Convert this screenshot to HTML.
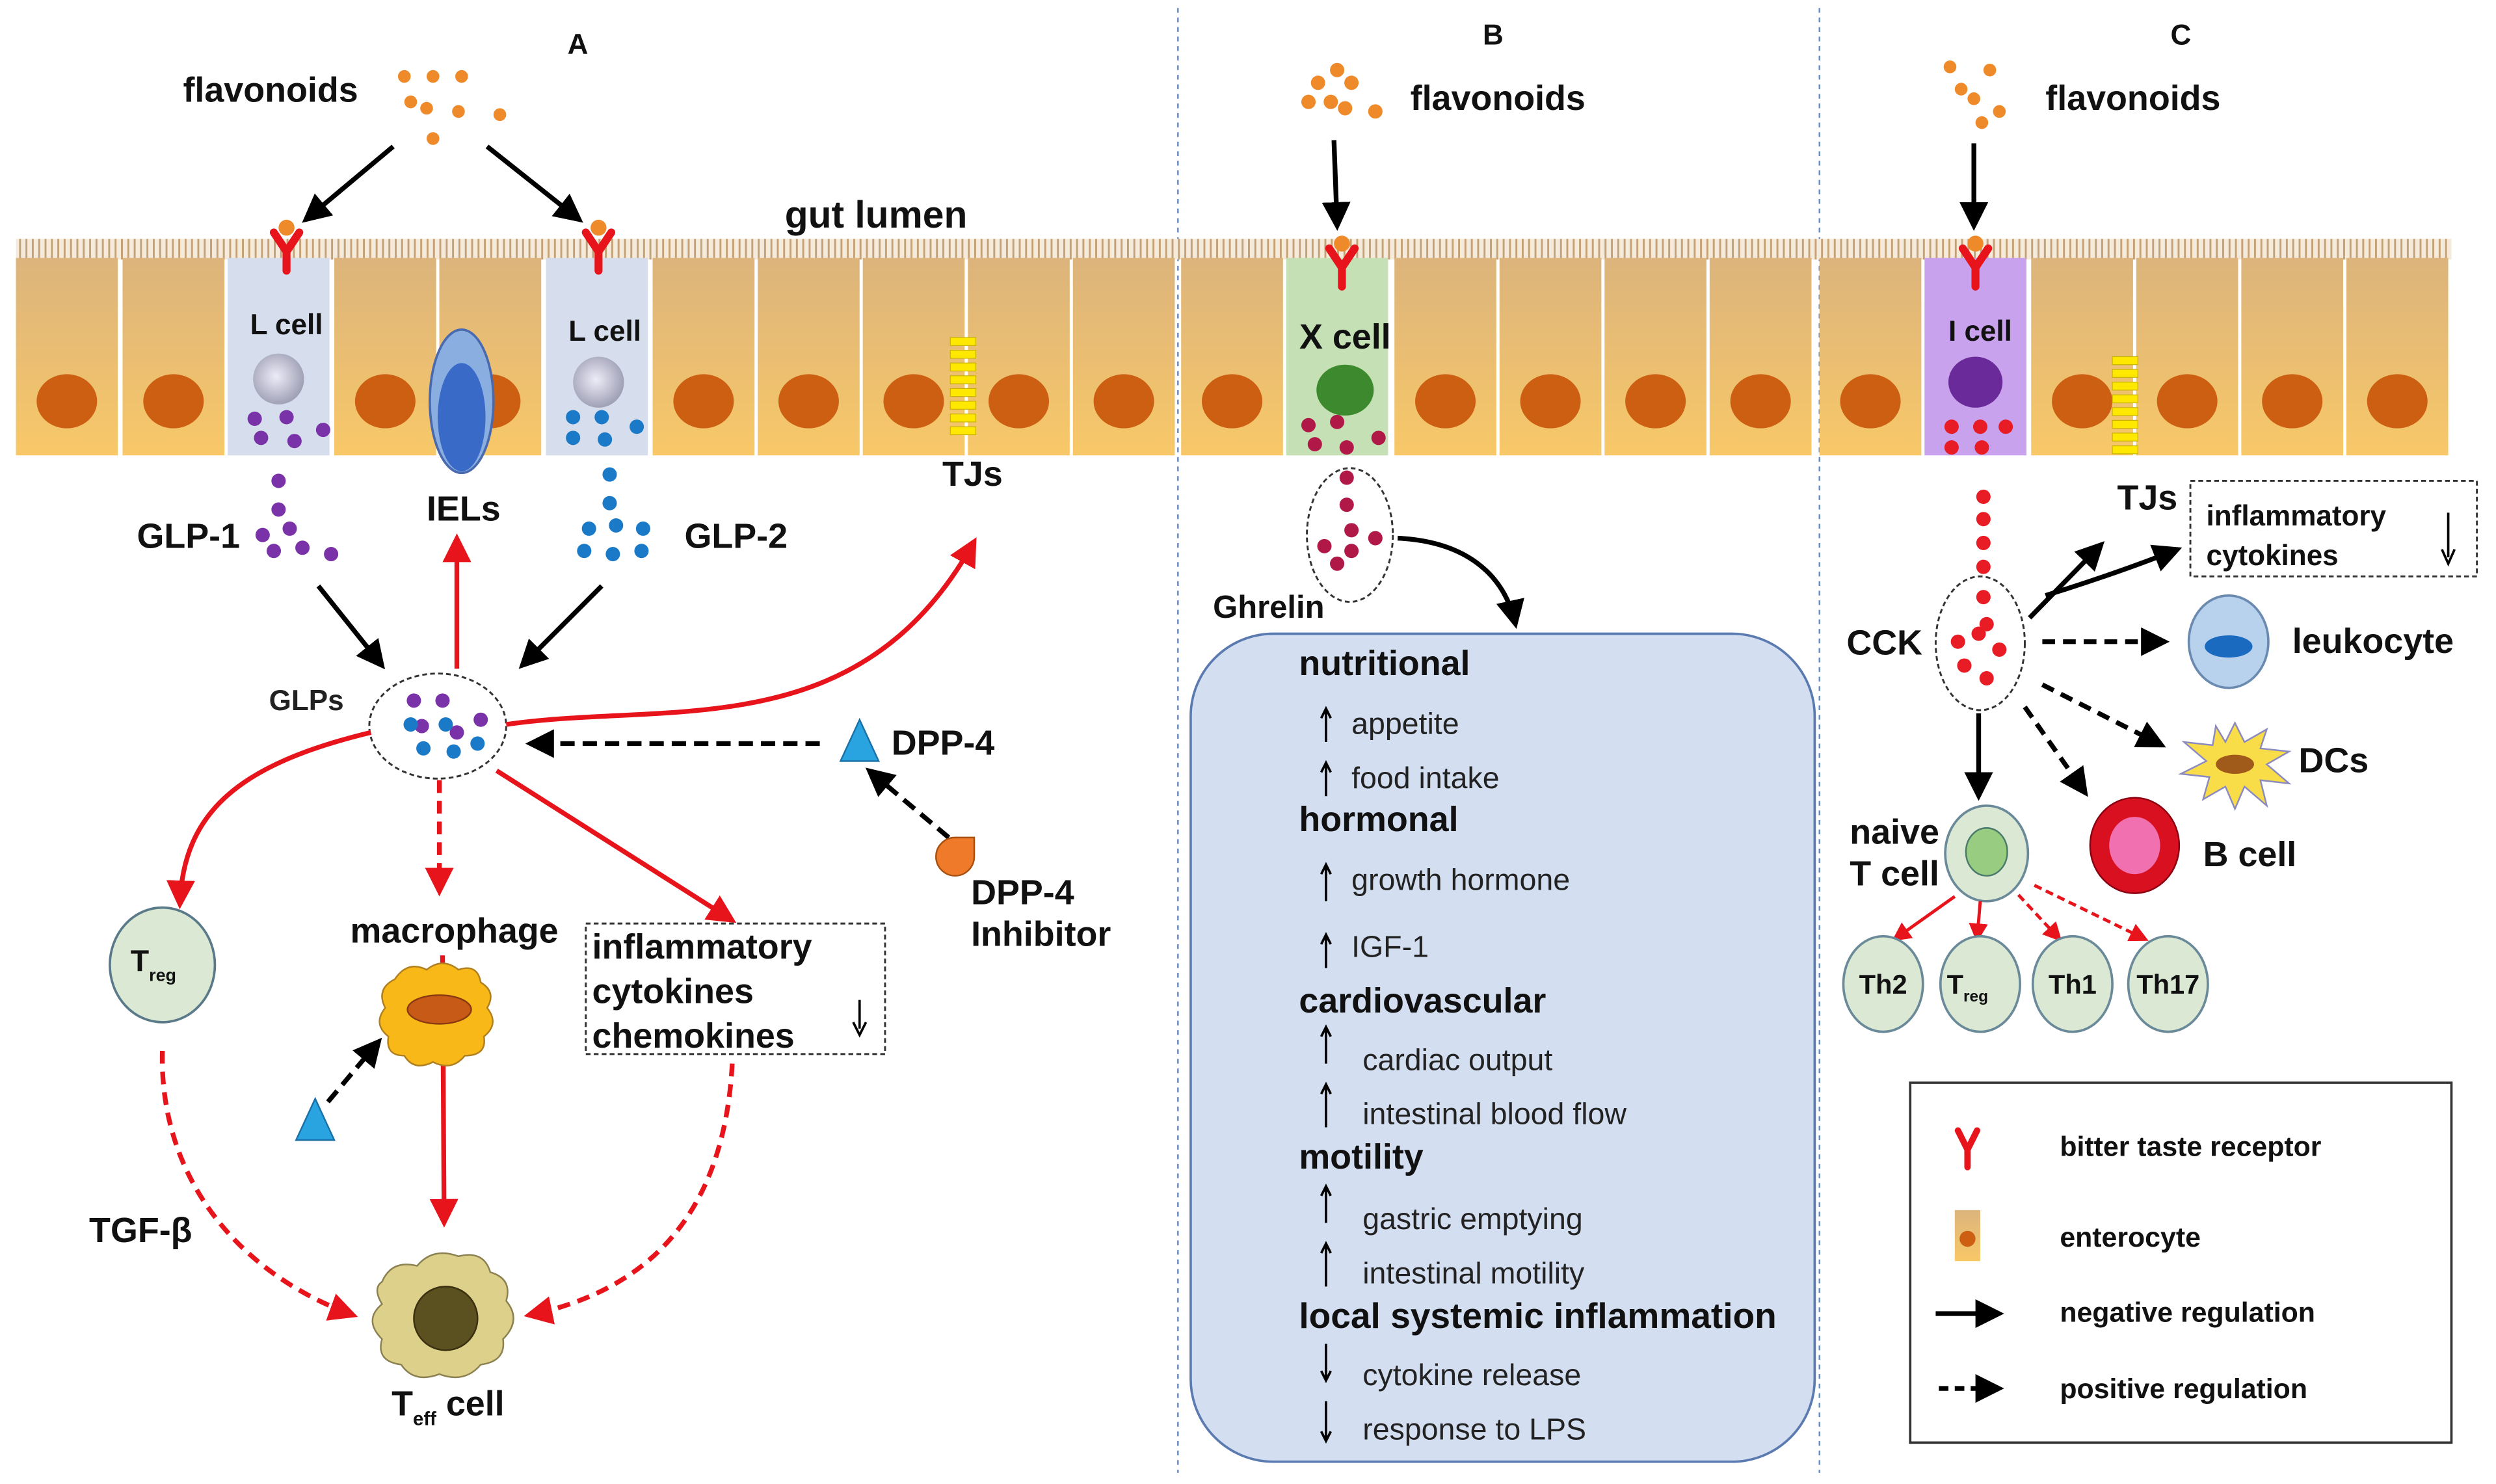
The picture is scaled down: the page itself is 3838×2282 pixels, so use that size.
<!DOCTYPE html>
<html><head><meta charset="utf-8"><style>
html,body{margin:0;padding:0;background:#fff;}
svg{display:block;}
text{font-family:"Liberation Sans",Arial,sans-serif;}
.b{font-weight:bold;font-size:22px;fill:#111;}
.s{font-size:19px;fill:#222;}
</style></head><body>
<svg width="3838" height="2282" viewBox="0 0 1568 932" preserveAspectRatio="none" xmlns="http://www.w3.org/2000/svg">
<defs>
<linearGradient id="eg" x1="0" y1="0" x2="0" y2="1"><stop offset="0" stop-color="#dcb47c"/><stop offset="1" stop-color="#f8c868"/></linearGradient>
<radialGradient id="gn" cx="0.45" cy="0.45" r="0.6"><stop offset="0" stop-color="#ececf8"/><stop offset="1" stop-color="#9a9ab0"/></radialGradient>
<pattern id="mv" width="4" height="14" patternUnits="userSpaceOnUse"><rect width="4" height="14" fill="#f6eadb"/><rect x="0" width="1.2" height="14" fill="#c4a278"/></pattern>
<marker id="ak" markerWidth="6" markerHeight="6" refX="5" refY="3" orient="auto" markerUnits="strokeWidth"><path d="M0,0 L6,3 L0,6 Z" fill="#000"/></marker>
<marker id="ar" markerWidth="6" markerHeight="6" refX="5" refY="3" orient="auto" markerUnits="strokeWidth"><path d="M0,0 L6,3 L0,6 Z" fill="#e8141c"/></marker>
<g id="ent"><rect x="0" y="162" width="64" height="124" fill="url(#eg)"/><ellipse cx="32" cy="252" rx="19" ry="17" fill="#cc5f12"/></g>
<g id="rec"><path d="M-8,-14 L0,-2 L8,-14 M0,-2 L0,10" stroke="#e8141c" stroke-width="5" fill="none" stroke-linecap="round"/><circle cx="0" cy="-17" r="5" fill="#ee8a2a"/></g>
</defs>

<text x="363" y="34" class="b" text-anchor="middle" style="font-size:18px">A</text>
<text x="938" y="28" class="b" text-anchor="middle" style="font-size:18px">B</text>
<text x="1370" y="28" class="b" text-anchor="middle" style="font-size:18px">C</text>
<line x1="740" y1="5" x2="740" y2="925" stroke="#6a8ac0" stroke-width="1" stroke-dasharray="3,3"/>
<line x1="1143" y1="5" x2="1143" y2="925" stroke="#6a8ac0" stroke-width="1" stroke-dasharray="3,3"/>

<rect x="10" y="150" width="1530" height="13" fill="url(#mv)"/>
<use href="#ent" x="10"/><use href="#ent" x="77"/><use href="#ent" x="210"/><use href="#ent" x="276"/>
<use href="#ent" x="410"/><use href="#ent" x="476"/><use href="#ent" x="542"/><use href="#ent" x="608"/><use href="#ent" x="674"/>
<use href="#ent" x="742"/><use href="#ent" x="876"/><use href="#ent" x="942"/><use href="#ent" x="1008"/><use href="#ent" x="1074"/>
<use href="#ent" x="1143"/><use href="#ent" x="1276"/><use href="#ent" x="1342"/><use href="#ent" x="1408"/><use href="#ent" x="1474"/>
<rect x="143" y="162" width="64" height="124" fill="#d6deee"/>
<rect x="343" y="162" width="64" height="124" fill="#d6deee"/>
<rect x="808" y="162" width="64" height="124" fill="#c4e0b4"/>
<rect x="1209" y="162" width="64" height="124" fill="#c8a2ec"/>
<text x="180" y="210" class="b" text-anchor="middle" style="font-size:18px">L cell</text>
<text x="380" y="214" class="b" text-anchor="middle" style="font-size:18px">L cell</text>
<text x="845" y="219" class="b" text-anchor="middle">X cell</text>
<text x="1244" y="214" class="b" text-anchor="middle" style="font-size:18px">I cell</text>
<circle cx="175" cy="238" r="16" fill="url(#gn)"/>
<circle cx="376" cy="240" r="16" fill="url(#gn)"/>
<ellipse cx="845" cy="245" rx="18" ry="16" fill="#3d8a2e"/>
<ellipse cx="1241" cy="240" rx="17" ry="16" fill="#6a2a9a"/>
<g fill="#7a32a8"><circle cx="160" cy="263" r="4.5"/><circle cx="180" cy="262" r="4.5"/><circle cx="164" cy="275" r="4.5"/><circle cx="185" cy="277" r="4.5"/><circle cx="203" cy="270" r="4.5"/></g>
<g fill="#1a7ac8"><circle cx="360" cy="262" r="4.5"/><circle cx="378" cy="262" r="4.5"/><circle cx="360" cy="275" r="4.5"/><circle cx="380" cy="276" r="4.5"/><circle cx="400" cy="268" r="4.5"/></g>
<g fill="#b01848"><circle cx="822" cy="267" r="4.5"/><circle cx="840" cy="265" r="4.5"/><circle cx="826" cy="279" r="4.5"/><circle cx="846" cy="281" r="4.5"/><circle cx="866" cy="275" r="4.5"/></g>
<g fill="#e81c24"><circle cx="1226" cy="268" r="4.5"/><circle cx="1244" cy="268" r="4.5"/><circle cx="1260" cy="268" r="4.5"/><circle cx="1226" cy="281" r="4.5"/><circle cx="1245" cy="281" r="4.5"/></g>
<ellipse cx="290" cy="252" rx="20" ry="45" fill="#8aaee0" stroke="#4a6ab0" stroke-width="1.5"/>
<ellipse cx="290" cy="262" rx="15" ry="34" fill="#3a6ac8"/>
<g fill="#ffe800" stroke="#c8b400" stroke-width="0.5">
<rect x="597" y="212" width="16" height="5"/><rect x="597" y="220" width="16" height="5"/><rect x="597" y="228" width="16" height="5"/><rect x="597" y="236" width="16" height="5"/><rect x="597" y="244" width="16" height="5"/><rect x="597" y="252" width="16" height="5"/><rect x="597" y="260" width="16" height="5"/><rect x="597" y="268" width="16" height="5"/>
<rect x="1327" y="224" width="16" height="5"/><rect x="1327" y="232" width="16" height="5"/><rect x="1327" y="240" width="16" height="5"/><rect x="1327" y="248" width="16" height="5"/><rect x="1327" y="256" width="16" height="5"/><rect x="1327" y="264" width="16" height="5"/><rect x="1327" y="272" width="16" height="5"/><rect x="1327" y="280" width="16" height="5"/>
</g>
<use href="#rec" x="180" y="160"/><use href="#rec" x="376" y="160"/><use href="#rec" x="843" y="170"/><use href="#rec" x="1241" y="170"/>

<g fill="#ee8a2a">
<circle cx="254" cy="48" r="4"/><circle cx="272" cy="48" r="4"/><circle cx="290" cy="48" r="4"/><circle cx="258" cy="64" r="4"/><circle cx="268" cy="68" r="4"/><circle cx="288" cy="70" r="4"/><circle cx="314" cy="72" r="4"/><circle cx="272" cy="87" r="4"/>
<circle cx="840" cy="44" r="4.5"/><circle cx="828" cy="52" r="4.5"/><circle cx="849" cy="52" r="4.5"/><circle cx="822" cy="64" r="4.5"/><circle cx="836" cy="64" r="4.5"/><circle cx="845" cy="68" r="4.5"/><circle cx="864" cy="70" r="4.5"/>
<circle cx="1225" cy="42" r="4"/><circle cx="1250" cy="44" r="4"/><circle cx="1232" cy="56" r="4"/><circle cx="1240" cy="62" r="4"/><circle cx="1256" cy="70" r="4"/><circle cx="1245" cy="77" r="4"/>
</g>
<text x="115" y="64" class="b">flavonoids</text>
<text x="886" y="69" class="b">flavonoids</text>
<text x="1285" y="69" class="b">flavonoids</text>
<text x="493" y="143" class="b" style="font-size:24px">gut lumen</text>

<g stroke="#000" stroke-width="3" fill="none" marker-end="url(#ak)">
<line x1="247" y1="92" x2="192" y2="138"/>
<line x1="306" y1="92" x2="364" y2="138"/>
<line x1="838" y1="88" x2="840" y2="142"/>
<line x1="1240" y1="90" x2="1240" y2="142"/>
<line x1="200" y1="368" x2="240" y2="418"/>
<line x1="378" y1="368" x2="328" y2="418"/>
</g>
<g fill="#7a32a8"><circle cx="175" cy="302" r="4.5"/><circle cx="175" cy="320" r="4.5"/><circle cx="165" cy="336" r="4.5"/><circle cx="182" cy="332" r="4.5"/><circle cx="172" cy="346" r="4.5"/><circle cx="190" cy="344" r="4.5"/><circle cx="208" cy="348" r="4.5"/></g>
<g fill="#1a7ac8"><circle cx="383" cy="298" r="4.5"/><circle cx="383" cy="316" r="4.5"/><circle cx="370" cy="332" r="4.5"/><circle cx="387" cy="330" r="4.5"/><circle cx="404" cy="332" r="4.5"/><circle cx="367" cy="346" r="4.5"/><circle cx="385" cy="348" r="4.5"/><circle cx="403" cy="346" r="4.5"/></g>
<text x="86" y="344" class="b">GLP-1</text>
<text x="430" y="344" class="b">GLP-2</text>
<text x="268" y="327" class="b">IELs</text>
<text x="592" y="305" class="b">TJs</text>
<ellipse cx="275" cy="456" rx="43" ry="33" fill="#fff" stroke="#333" stroke-width="1.2" stroke-dasharray="3,2"/>
<g fill="#7a32a8"><circle cx="260" cy="440" r="4.5"/><circle cx="278" cy="440" r="4.5"/><circle cx="302" cy="452" r="4.5"/><circle cx="265" cy="456" r="4.5"/><circle cx="287" cy="460" r="4.5"/></g>
<g fill="#1a7ac8"><circle cx="258" cy="455" r="4.5"/><circle cx="280" cy="455" r="4.5"/><circle cx="300" cy="467" r="4.5"/><circle cx="266" cy="470" r="4.5"/><circle cx="285" cy="472" r="4.5"/></g>
<text x="169" y="446" class="s" style="font-weight:bold;font-size:18px">GLPs</text>

<g stroke="#e8141c" stroke-width="3" fill="none" marker-end="url(#ar)">
<line x1="287" y1="420" x2="287" y2="338"/>
<path d="M318,455 C420,440 540,470 612,340"/>
<path d="M233,460 C150,480 115,510 113,568"/>
<line x1="312" y1="484" x2="460" y2="578"/>
<line x1="278" y1="600" x2="279" y2="768"/>
</g>
<g stroke="#e8141c" stroke-width="3" fill="none" stroke-dasharray="8,5" marker-end="url(#ar)">
<line x1="276" y1="490" x2="276" y2="560"/>
<path d="M102,660 C100,740 150,800 222,826"/>
<path d="M460,668 C455,760 410,810 332,826"/>
</g>
<g stroke="#000" stroke-width="3" fill="none" stroke-dasharray="9,5" marker-end="url(#ak)">
<line x1="515" y1="467" x2="333" y2="467"/>
<line x1="596" y1="526" x2="546" y2="484"/>
<line x1="206" y1="692" x2="238" y2="654"/>
</g>
<polygon points="540,452 528,478 552,478" fill="#2aa4e0" stroke="#1a70a8" stroke-width="1"/>
<polygon points="198,690 186,716 210,716" fill="#2aa4e0" stroke="#1a70a8" stroke-width="1"/>
<text x="560" y="474" class="b">DPP-4</text>
<path d="M600,526 A12,12 0 1,0 612,538 L612,526 Z" fill="#ee7a2a" stroke="#a85010" stroke-width="1"/>
<text x="610" y="568" class="b">DPP-4</text>
<text x="610" y="594" class="b">Inhibitor</text>
<ellipse cx="102" cy="606" rx="33" ry="36" fill="#dbe8d4" stroke="#5a7a8a" stroke-width="1.5"/>
<text x="82" y="610" class="b" style="font-size:19px">T<tspan font-size="11" dy="6">reg</tspan></text>
<text x="220" y="592" class="b">macrophage</text>
<path d="M248,615 q8,-12 20,-6 q10,-8 20,0 q12,-4 14,8 q10,6 4,16 q8,10 -2,18 q2,12 -12,12 q-8,10 -20,4 q-12,6 -18,-4 q-12,0 -10,-12 q-10,-8 -2,-18 q-6,-12 6,-18z" fill="#f8b818" stroke="#b08020" stroke-width="1"/>
<ellipse cx="276" cy="634" rx="20" ry="9" fill="#c85a18" stroke="#8a3a10" stroke-width="1"/>
<rect x="368" y="580" width="188" height="82" fill="#fff" stroke="#333" stroke-width="1.2" stroke-dasharray="3,2"/>
<text x="372" y="602" class="b">inflammatory</text>
<text x="372" y="630" class="b">cytokines</text>
<text x="372" y="658" class="b">chemokines</text>
<line x1="540" y1="628" x2="540" y2="646" stroke="#000" stroke-width="1.5"/><path d="M536,642 L540,650 L544,642" fill="none" stroke="#000" stroke-width="1.5"/>
<path d="M240,805 q6,-14 22,-10 q10,-12 26,-6 q16,-4 20,10 q14,4 10,18 q10,12 -2,24 q2,14 -14,16 q-10,12 -26,6 q-16,6 -24,-6 q-16,-2 -12,-16 q-12,-12 0,-22 q-6,-10 0,-14z" fill="#ddd08a" stroke="#8a8050" stroke-width="1"/>
<circle cx="280" cy="828" r="20" fill="#5a5020" stroke="#3a3010" stroke-width="1"/>
<text x="56" y="780" class="b">TGF-β</text>
<text x="246" y="889" class="b">T<tspan font-size="12" dy="6">eff</tspan><tspan dy="-6"> cell</tspan></text>

<ellipse cx="848" cy="336" rx="27" ry="42" fill="#fff" stroke="#333" stroke-width="1.2" stroke-dasharray="3,2"/>
<g fill="#b01848"><circle cx="846" cy="300" r="4.5"/><circle cx="846" cy="317" r="4.5"/><circle cx="849" cy="333" r="4.5"/><circle cx="864" cy="338" r="4.5"/><circle cx="832" cy="343" r="4.5"/><circle cx="849" cy="346" r="4.5"/><circle cx="840" cy="354" r="4.5"/></g>
<text x="762" y="388" class="b" style="font-size:20px">Ghrelin</text>
<path d="M878,338 C920,340 945,360 952,392" stroke="#000" stroke-width="3" fill="none" marker-end="url(#ak)"/>
<rect x="748" y="398" width="392" height="520" rx="52" fill="#d3def0" stroke="#5a7ab0" stroke-width="1.5"/>
<text x="816" y="424" class="b">nutritional</text>
<text x="816" y="522" class="b">hormonal</text>
<text x="816" y="636" class="b">cardiovascular</text>
<text x="816" y="734" class="b">motility</text>
<text x="816" y="834" class="b" style="font-size:22.5px">local systemic inflammation</text>
<text x="849" y="461" class="s">appetite</text>
<text x="849" y="495" class="s">food intake</text>
<text x="849" y="559" class="s">growth hormone</text>
<text x="849" y="601" class="s">IGF-1</text>
<text x="856" y="672" class="s">cardiac output</text>
<text x="856" y="706" class="s">intestinal blood flow</text>
<text x="856" y="772" class="s">gastric emptying</text>
<text x="856" y="806" class="s">intestinal motility</text>
<text x="856" y="870" class="s">cytokine release</text>
<text x="856" y="904" class="s">response to LPS</text>
<g stroke="#000" stroke-width="1.5" fill="none">
<path d="M833,466 L833,446 M830,451 L833,445 L836,451"/>
<path d="M833,500 L833,480 M830,485 L833,479 L836,485"/>
<path d="M833,566 L833,544 M830,549 L833,543 L836,549"/>
<path d="M833,608 L833,588 M830,593 L833,587 L836,593"/>
<path d="M833,668 L833,646 M830,651 L833,645 L836,651"/>
<path d="M833,708 L833,682 M830,687 L833,681 L836,687"/>
<path d="M833,768 L833,746 M830,751 L833,745 L836,751"/>
<path d="M833,808 L833,782 M830,787 L833,781 L836,787"/>
<path d="M833,844 L833,866 M830,861 L833,867 L836,861"/>
<path d="M833,880 L833,904 M830,899 L833,905 L836,899"/>
</g>

<g fill="#e81c24"><circle cx="1246" cy="312" r="4.5"/><circle cx="1246" cy="326" r="4.5"/><circle cx="1246" cy="341" r="4.5"/><circle cx="1246" cy="356" r="4.5"/></g>
<ellipse cx="1244" cy="404" rx="28" ry="42" fill="#fff" stroke="#333" stroke-width="1.2" stroke-dasharray="3,2"/>
<g fill="#e81c24"><circle cx="1246" cy="375" r="4.5"/><circle cx="1248" cy="392" r="4.5"/><circle cx="1243" cy="398" r="4.5"/><circle cx="1230" cy="403" r="4.5"/><circle cx="1256" cy="408" r="4.5"/><circle cx="1234" cy="418" r="4.5"/><circle cx="1248" cy="426" r="4.5"/></g>
<text x="1160" y="411" class="b">CCK</text>
<g stroke="#000" stroke-width="3" fill="none" marker-end="url(#ak)">
<path d="M1275,388 L1320,342"/>
<path d="M1285,374 Q1330,360 1368,345"/>
<line x1="1243" y1="448" x2="1243" y2="500"/>
</g>
<g stroke="#000" stroke-width="3" fill="none" stroke-dasharray="8,5" marker-end="url(#ak)">
<line x1="1283" y1="403" x2="1360" y2="403"/>
<line x1="1283" y1="430" x2="1358" y2="468"/>
<line x1="1272" y1="444" x2="1310" y2="498"/>
</g>
<text x="1330" y="320" class="b">TJs</text>
<rect x="1376" y="302" width="180" height="60" fill="#fff" stroke="#333" stroke-width="1.2" stroke-dasharray="3,2"/>
<text x="1386" y="330" class="b" style="font-size:18px">inflammatory</text>
<text x="1386" y="355" class="b" style="font-size:18px">cytokines</text>
<line x1="1538" y1="322" x2="1538" y2="350" stroke="#000" stroke-width="1.5"/><path d="M1534,345 L1538,354 L1542,345" fill="none" stroke="#000" stroke-width="1.5"/>
<ellipse cx="1400" cy="403" rx="25" ry="29" fill="#b8d2ee" stroke="#6a8ab0" stroke-width="1.5"/>
<ellipse cx="1400" cy="406" rx="15" ry="7" fill="#1a6ac0"/>
<text x="1440" y="410" class="b">leukocyte</text>
<polygon points="1404,454 1410,466 1424,458 1420,470 1438,472 1424,480 1438,492 1420,490 1424,506 1410,494 1404,508 1398,494 1384,502 1388,488 1370,486 1386,478 1372,466 1390,468 1392,456 1398,466" fill="#f8dc48" stroke="#8a8ac0" stroke-width="1"/>
<ellipse cx="1404" cy="480" rx="12" ry="6" fill="#a05a1a"/>
<text x="1444" y="485" class="b">DCs</text>
<ellipse cx="1341" cy="531" rx="28" ry="30" fill="#d81020" stroke="#8a0010" stroke-width="1"/>
<ellipse cx="1341" cy="531" rx="16" ry="18" fill="#f070b0"/>
<text x="1384" y="544" class="b">B cell</text>
<text x="1162" y="530" class="b">naive</text>
<text x="1162" y="556" class="b">T cell</text>
<ellipse cx="1248" cy="536" rx="26" ry="30" fill="#dbe8d4" stroke="#6a8a9a" stroke-width="1.5"/>
<ellipse cx="1248" cy="535" rx="13" ry="15" fill="#98cc80" stroke="#4a7a6a" stroke-width="1"/>
<g stroke="#e8141c" stroke-width="2" fill="none" marker-end="url(#ar)">
<line x1="1228" y1="563" x2="1190" y2="590"/>
<line x1="1244" y1="566" x2="1242" y2="590"/>
</g>
<g stroke="#e8141c" stroke-width="2" fill="none" stroke-dasharray="5,3" marker-end="url(#ar)">
<line x1="1268" y1="562" x2="1294" y2="590"/>
<line x1="1278" y1="556" x2="1348" y2="590"/>
</g>
<g fill="#dbe8d4" stroke="#6a8a9a" stroke-width="1.5">
<ellipse cx="1183" cy="618" rx="25" ry="30"/><ellipse cx="1244" cy="618" rx="25" ry="30"/><ellipse cx="1302" cy="618" rx="25" ry="30"/><ellipse cx="1362" cy="618" rx="25" ry="30"/>
</g>
<text x="1183" y="624" class="b" text-anchor="middle" style="font-size:17px">Th2</text>
<text x="1236" y="624" class="b" text-anchor="middle" style="font-size:17px">T<tspan font-size="10" dy="5">reg</tspan></text>
<text x="1302" y="624" class="b" text-anchor="middle" style="font-size:17px">Th1</text>
<text x="1362" y="624" class="b" text-anchor="middle" style="font-size:17px">Th17</text>

<rect x="1200" y="680" width="340" height="226" fill="#fff" stroke="#333" stroke-width="1.5"/>
<path d="M1230,710 L1236,722 L1242,710 M1236,722 L1236,733" stroke="#e8141c" stroke-width="4" fill="none" stroke-linecap="round"/>
<text x="1294" y="726" class="b" style="font-size:17.5px">bitter taste receptor</text>
<rect x="1228" y="760" width="16" height="32" fill="url(#eg)"/>
<circle cx="1236" cy="778" r="5" fill="#cc5f12"/>
<text x="1294" y="783" class="b" style="font-size:17.5px">enterocyte</text>
<line x1="1216" y1="825" x2="1256" y2="825" stroke="#000" stroke-width="3" marker-end="url(#ak)"/>
<text x="1294" y="830" class="b" style="font-size:17.5px">negative regulation</text>
<line x1="1218" y1="872" x2="1256" y2="872" stroke="#000" stroke-width="3" stroke-dasharray="6,4" marker-end="url(#ak)"/>
<text x="1294" y="878" class="b" style="font-size:17.5px">positive regulation</text>
</svg>
</body></html>
